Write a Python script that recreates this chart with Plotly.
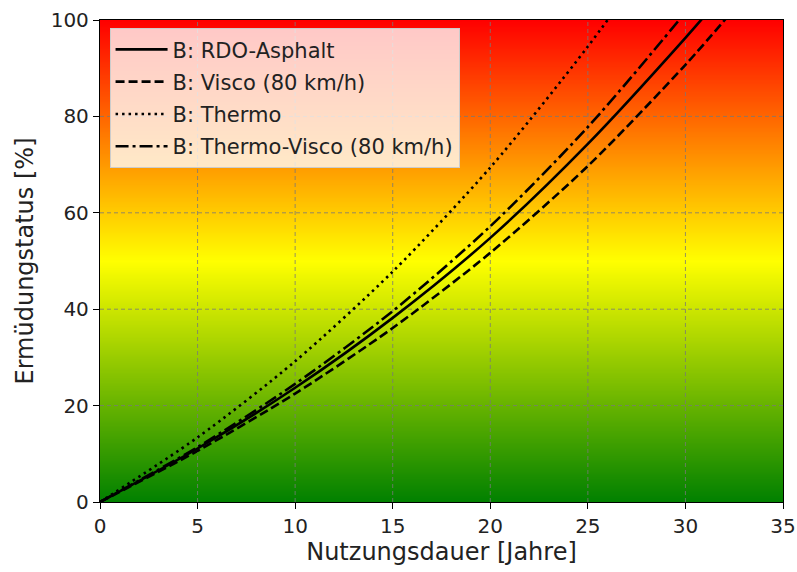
import numpy as np
import plotly.graph_objects as go

# Data
years = [0, 5, 10, 15, 20, 25, 30, 32.5]
rdo_asphalt = [0, 11.1, 23.7, 38.2, 54.8, 74.3, 96.3, 108.0]
visco_80 = [0, 10.6, 22.5, 36.1, 51.7, 69.7, 90.7, 102.3]
thermo = [0, 13.4, 29.2, 47.8, 69.4, 94.5, 122.5, 137.0]
thermo_visco_80 = [0, 11.4, 24.5, 39.6, 57.2, 77.8, 101.6, 114.5]

series_names = ["B: RDO-Asphalt", "B: Visco (80 km/h)", "B: Thermo", "B: Thermo-Visco (80 km/h)"]
series_values = [rdo_asphalt, visco_80, thermo, thermo_visco_80]
dash_styles = ["solid", "9px,4px", "2.5px,4px", "13px,4px,3px,4px"]

x_ticks = [0, 5, 10, 15, 20, 25, 30, 35]
y_ticks = [0, 20, 40, 60, 80, 100]

fig = go.Figure()

# Background gradient green -> yellow -> red
grad_levels = np.linspace(0, 100, 201)
fig.add_trace(go.Heatmap(
    x=[x_ticks[0], x_ticks[-1]],
    y=grad_levels,
    z=[[v, v] for v in grad_levels],
    colorscale=[[0, "rgb(0,128,0)"], [0.5, "rgb(255,255,0)"], [1, "rgb(255,0,0)"]],
    zmin=0, zmax=100, showscale=False, zsmooth="best", hoverinfo="skip",
))

# Grid lines (drawn as traces so they sit above the gradient)
grid_style = dict(color="rgba(120,120,120,0.8)", width=1, dash="4px,3px")
for xv in x_ticks[1:-1]:
    fig.add_trace(go.Scatter(x=[xv, xv], y=[y_ticks[0], y_ticks[-1]], mode="lines",
                             line=grid_style, showlegend=False, hoverinfo="skip"))
for yv in y_ticks[1:-1]:
    fig.add_trace(go.Scatter(x=[x_ticks[0], x_ticks[-1]], y=[yv, yv], mode="lines",
                             line=grid_style, showlegend=False, hoverinfo="skip"))

for i, (name, vals, dash) in enumerate(zip(series_names, series_values, dash_styles)):
    fig.add_trace(go.Scatter(
        x=years, y=vals, mode="lines", name=name, legendgroup=f"g{i}",
        line=dict(color="black", width=2.6, dash=dash, shape="spline", smoothing=0.8),
    ))

axis_common = dict(
    showline=True, linecolor="black", linewidth=1.3, mirror=True,
    ticks="outside", ticklen=6, tickwidth=1.3, tickcolor="black",
    showgrid=False, zeroline=False, automargin=False,
    ticklabeloverflow="allow",
    tickfont=dict(family="DejaVu Sans", size=20, color="#222"),
)

fig.update_layout(
    width=797, height=572,
    margin=dict(l=100, r=14, t=20, b=70),
    paper_bgcolor="white", plot_bgcolor="white",
    font=dict(family="DejaVu Sans", color="#222"),
    xaxis=dict(range=[0, 35], tickvals=x_ticks,
               title=dict(text="Nutzungsdauer [Jahre]", font=dict(size=24, family="DejaVu Sans"), standoff=6),
               **axis_common),
    yaxis=dict(range=[0, 100], tickvals=y_ticks,
               title=dict(text="Ermüdungstatus [%]", font=dict(size=24, family="DejaVu Sans"), standoff=10),
               **axis_common),
    legend=dict(
        x=0.014, y=0.983, xanchor="left", yanchor="top",
        bgcolor="rgba(255,255,255,0.78)", bordercolor="#cccccc", borderwidth=1,
        font=dict(family="DejaVu Sans", size=21, color="#222"),
        tracegroupgap=2, itemwidth=52,
    ),
    showlegend=True,
)

fig.write_html("out.html", config={"displayModeBar": False},
               post_script="document.body.style.margin='0px';document.body.style.overflow='hidden';")
